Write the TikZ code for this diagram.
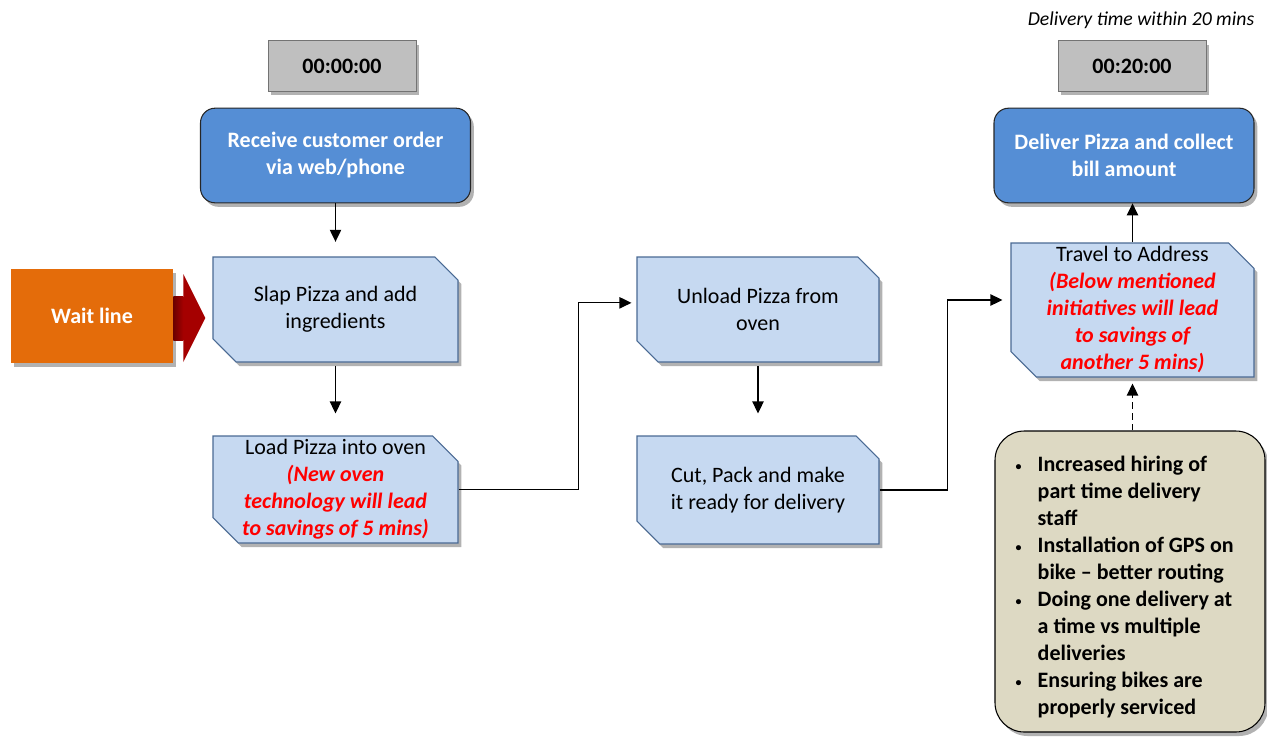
\documentclass[tikz,border=0pt]{standalone}
\usepackage{fontspec}
\setmainfont{Carlito}
\usetikzlibrary{arrows.meta,shapes.misc,shadows}

\definecolor{timergray}{HTML}{BFBFBF}
\definecolor{mainblue}{HTML}{558ED5}
\definecolor{stepfill}{HTML}{C6D9F1}
\definecolor{stepline}{HTML}{4A6A94}
\definecolor{waitorange}{HTML}{E46C0A}
\definecolor{waitred}{HTML}{A50000}
\definecolor{waitdark}{HTML}{6A0000}
\definecolor{savered}{HTML}{FF0000}
\definecolor{notefill}{HTML}{DDD9C3}

\newcommand\stepfont{\fontsize{16.5}{20.25}\selectfont}
\newcommand\saving[1]{{\color{savered}\bfseries\itshape #1}}
\newcommand\notebullet{\raisebox{0.12ex}{\small\textbullet}}

\tikzset{
  boxshadow/.style={drop shadow={shadow xshift=2.5pt, shadow yshift=-3pt, opacity=0.3, fill=black}},
  timer/.style={draw=black!55, fill=timergray, minimum width=111pt, minimum height=38pt,
    font=\stepfont\bfseries, boxshadow},
  mainbox/.style={draw=black!85, thick, fill=mainblue, rounded corners=11pt, text=white,
    font=\stepfont\bfseries, align=center, minimum height=71pt, boxshadow},
  stepbox/.style={chamfered rectangle, chamfered rectangle corners={north east,south west},
    chamfered rectangle xsep=10pt, chamfered rectangle ysep=9pt,
    draw=stepline, thick, fill=stepfill, font=\stepfont, align=center,
    inner xsep=0pt, inner ysep=-9pt, boxshadow},
  flow/.style={line width=0.9pt, -{Triangle[length=9pt,width=8.5pt]}},
}

\begin{document}
\begin{tikzpicture}[x=0.75pt, y=-0.75pt]
\useasboundingbox (0,0) rectangle (1267,740);

%% Zeitmarken
\node[font=\fontsize{14.8}{17}\selectfont\itshape] (goal) at (1141,20) {Delivery time within 20 mins};
\node[timer] (start) at (342,66) {00:00:00};
\node[timer] (finish) at (1132,66) {00:20:00};

%% Anfang und Ende
\node[mainbox, minimum width=202.5pt] (receive) at (335.5,155.5) {Receive customer order\\via web/phone};
\node[mainbox, minimum width=195pt] (deliver) at (1124,155.5) {Deliver Pizza and collect\\bill amount};

%% Arbeitsschritte
\node[stepbox, minimum width=183.75pt, minimum height=78.75pt] (slap) at (335.5,309.5) {Slap Pizza and add\\ingredients};
\node[stepbox, minimum width=183.75pt, minimum height=80.25pt] (load) at (335.5,489.5)
  {Load Pizza into oven\\\saving{(New oven}\\\saving{technology will lead}\\\saving{to savings of 5 mins)}};
\node[stepbox, minimum width=181.5pt, minimum height=78.75pt] (unload) at (758,309.5) {Unload Pizza from\\oven};
\node[stepbox, minimum width=181.5pt, minimum height=81pt] (cut) at (758,490) {Cut, Pack and make\\it ready for delivery};
\node[stepbox, minimum width=182.25pt, minimum height=100.5pt] (travel) at (1132.5,310)
  {Travel to Address\\\saving{(Below mentioned}\\\saving{initiatives will lead}\\\saving{to savings of}\\\saving{another 5 mins)}};

%% Warteschlange
\node[fill=waitorange, text=white, font=\stepfont\bfseries, minimum width=121.5pt, minimum height=70.5pt,
  boxshadow] (wait) at (92,316) {Wait line};
\shade[left color=waitdark, right color=waitred] (wait.east) ++(0,-20) rectangle ++(10,44);
\fill[waitred] (wait.east) ++(10,-42) -- ++(22,44) -- ++(-22,44) -- cycle;

%% Massnahmen
\node[draw=black, thick, fill=notefill, rounded corners=22pt, minimum width=202.5pt, minimum height=225.75pt,
  font=\stepfont\bfseries, boxshadow] (measures) at (1130,581.5)
  {\hspace*{-8pt}\begin{tabular}{@{}l@{\hspace{12pt}}l@{}}
    \notebullet & \rule{0pt}{24pt}Increased hiring of\\ & part time delivery\\ & staff\\
    \notebullet & Installation of GPS on\\ & bike -- better routing\\
    \notebullet & Doing one delivery at\\ & a time vs multiple\\ & deliveries\\
    \notebullet & Ensuring bikes are\\ & properly serviced
  \end{tabular}\hspace{20pt}};

%% Verbindungen
\draw[flow, shorten >=11pt] (receive.south) -- (slap.north);
\draw[flow, shorten <=2.5pt, shorten >=16.5pt] (slap.south) -- (load.north);
\draw[flow, shorten <=2.5pt, shorten >=16.5pt] (unload.south) -- (cut.north);
\draw[flow, shorten >=3.75pt] (load.east) -- ++(120,0) |- ([yshift=5pt]unload.west);
\draw[flow, shorten >=6pt] (cut.east) -- ++(68,0) |- ([yshift=7.5pt]travel.west);
\draw[flow] (travel.north) -- (travel.north |- deliver.south);
\draw[flow, dash pattern=on 5pt off 3pt, shorten >=4.5pt] (travel.south |- measures.north) -- (travel.south);

\end{tikzpicture}
\end{document}
